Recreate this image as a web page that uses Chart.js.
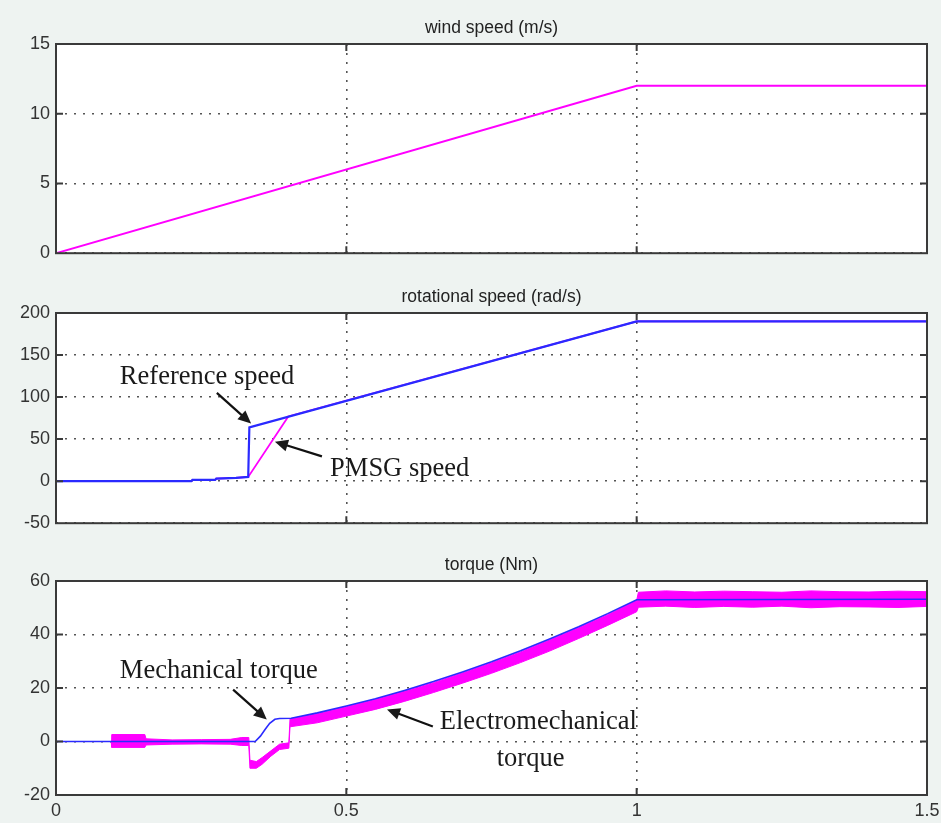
<!DOCTYPE html>
<html>
<head>
<meta charset="utf-8">
<script src="https://cdn.jsdelivr.net/npm/chart.js@4.4.0/dist/chart.umd.min.js"></script>
<style>
  body { margin: 0; background: #eef3f1; }
  .panel { position: absolute; left: 0; width: 941px; }
</style>
</head>
<body>
<div class="panel" style="top:0;height:270px"><canvas id="windChart" width="941" height="270"></canvas></div>
<div class="panel" style="top:270px;height:270px"><canvas id="speedChart" width="941" height="270"></canvas></div>
<div class="panel" style="top:540px;height:283px"><canvas id="torqueChart" width="941" height="283"></canvas></div>
<script>
// x axis ticks shared by all panels
const timeTicks = [0, 0.5, 1, 1.5];

// wind speed (m/s)
const windTime = [0, 1, 1.5];
const windSpeed = [0, 12, 12];

// rotational speed (rad/s)
const refTime = [0, 0.233, 0.235, 0.274, 0.276, 0.31, 0.331, 0.333, 1, 1.5];
const refSpeed = [0, 0, 1.5, 1.5, 3, 4, 5, 64, 190, 190];
const pmsgTime = [0, 0.233, 0.235, 0.274, 0.276, 0.31, 0.331, 0.40, 1, 1.5];
const pmsgSpeed = [0, 0, 1.5, 1.5, 3, 4, 5, 77, 190, 190];

// torque (Nm)
const mechTime = [0, 0.343, 0.352, 0.36, 0.368, 0.377, 0.385, 0.405, 0.45, 0.5, 0.55, 0.6, 0.65, 0.7, 0.75, 0.8, 0.85, 0.9, 0.95, 1.0, 1.5];
const mechTorque = [0, 0, 2, 4.5, 6.8, 8.3, 8.6, 8.7, 10.7, 13.3, 16.0, 19.1, 22.4, 26.0, 29.8, 33.9, 38.3, 42.9, 47.8, 53.0, 53.2];

const elecTime = [0.095, 0.096, 0.153, 0.155, 0.2, 0.25, 0.3, 0.32, 0.332, 0.334, 0.345, 0.355, 0.37, 0.385, 0.401, 0.403,
  0.45, 0.5, 0.55, 0.6, 0.65, 0.7, 0.75, 0.8, 0.85, 0.9, 0.95, 1.0,
  1.003, 1.05, 1.1, 1.15, 1.2, 1.25, 1.3, 1.35, 1.4, 1.45, 1.5];
const elecUpper = [0, 2.6, 2.6, 1.0, 0.6, 0.7, 0.8, 1.5, 1.5, -7, -7.5, -6, -3.5, -1, -0.5, 8.5,
  10.4, 13, 15.7, 18.8, 22, 25.6, 29.4, 33.5, 37.9, 42.5, 47.4, 52.8,
  55.8, 56.3, 55.9, 56.2, 56.0, 55.8, 56.3, 56.0, 55.9, 56.2, 56.0];
const elecLower = [0, -2.2, -2.2, -1.3, -1.0, -0.9, -1.0, -1.5, -1.5, -10, -10, -8.5, -5.5, -3, -2.5, 5.5,
  7, 9.5, 12, 15, 18.3, 21.8, 25.5, 29.5, 33.8, 38.5, 43.4, 48.5,
  50.2, 50.6, 50.1, 50.5, 50.2, 50.6, 50.0, 50.4, 50.3, 50.1, 50.5];

const MAGENTA = '#ff00ff';
const BLUE = '#2a2aff';

function pts(xs, ys) {
  return xs.map((x, i) => ({ x: x, y: ys[i] }));
}

// arrow + label annotations, given in data coordinates
function drawNotes(chart, notes) {
  const ctx = chart.ctx;
  const xs = chart.scales.x, ys = chart.scales.y;
  ctx.save();
  ctx.fillStyle = '#1a1a1a';
  ctx.strokeStyle = '#111';
  ctx.font = '26.5px "Liberation Serif", "Times New Roman", serif';
  ctx.textBaseline = 'middle';
  ctx.textAlign = 'left';
  (notes.texts || []).forEach(t => {
    ctx.fillText(t.text, xs.getPixelForValue(t.x), ys.getPixelForValue(t.y));
  });
  (notes.arrows || []).forEach(a => {
    const x1 = xs.getPixelForValue(a.from[0]), y1 = ys.getPixelForValue(a.from[1]);
    const x2 = xs.getPixelForValue(a.to[0]), y2 = ys.getPixelForValue(a.to[1]);
    const ang = Math.atan2(y2 - y1, x2 - x1);
    const hl = 13, hw = 6;
    ctx.lineWidth = 2.2;
    ctx.beginPath();
    ctx.moveTo(x1, y1);
    ctx.lineTo(x2 - Math.cos(ang) * hl * 0.8, y2 - Math.sin(ang) * hl * 0.8);
    ctx.stroke();
    ctx.beginPath();
    ctx.moveTo(x2, y2);
    ctx.lineTo(x2 - Math.cos(ang) * hl - Math.sin(ang) * hw, y2 - Math.sin(ang) * hl + Math.cos(ang) * hw);
    ctx.lineTo(x2 - Math.cos(ang) * hl + Math.sin(ang) * hw, y2 - Math.sin(ang) * hl - Math.cos(ang) * hw);
    ctx.closePath();
    ctx.fill();
  });
  ctx.restore();
}

const framePlugin = {
  id: 'matlabFrame',
  afterDatasetsDraw(chart, args, opts) {
    const ctx = chart.ctx;
    const a = chart.chartArea;
    const xs = chart.scales.x, ys = chart.scales.y;
    ctx.save();
    ctx.strokeStyle = '#3a3a3a';
    ctx.lineWidth = 2;
    ys.ticks.forEach(t => {
      const y = ys.getPixelForValue(t.value);
      if (t.value === ys.min || t.value === ys.max) return;
      ctx.beginPath();
      ctx.moveTo(a.left, y); ctx.lineTo(a.left + 7, y);
      ctx.moveTo(a.right, y); ctx.lineTo(a.right - 7, y);
      ctx.stroke();
    });
    xs.ticks.forEach(t => {
      const x = xs.getPixelForValue(t.value);
      if (t.value === xs.min || t.value === xs.max) return;
      ctx.beginPath();
      ctx.moveTo(x, a.bottom); ctx.lineTo(x, a.bottom - 7);
      ctx.moveTo(x, a.top); ctx.lineTo(x, a.top + 7);
      ctx.stroke();
    });
    ctx.strokeRect(a.left, a.top, a.right - a.left, a.bottom - a.top);
    // panel title
    ctx.fillStyle = '#222';
    ctx.font = '17.5px "Liberation Sans", Arial, sans-serif';
    ctx.textAlign = 'center';
    ctx.textBaseline = 'middle';
    ctx.fillText(opts.title, (a.left + a.right) / 2, a.top - 16);
    ctx.restore();
    if (opts.notes) drawNotes(chart, opts.notes);
  }
};

function makeChart(id, cfg) {
  const canvas = document.getElementById(id);
  return new Chart(canvas.getContext('2d'), {
    type: 'line',
    data: { datasets: cfg.datasets },
    options: {
      responsive: false,
      animation: false,
      layout: { padding: { top: cfg.top, right: 14, left: 0, bottom: 0 } },
      elements: { point: { radius: 0 }, line: { tension: 0 } },
      plugins: {
        legend: { display: false },
        tooltip: { enabled: false },
        matlabFrame: { title: cfg.title, notes: cfg.notes }
      },
      scales: {
        x: {
          type: 'linear',
          min: 0, max: 1.5,
          afterBuildTicks: s => { s.ticks = timeTicks.map(v => ({ value: v })); },
          afterFit: s => {
            s.height = cfg.xHeight;
            s.paddingLeft = 0;
            s.paddingRight = 0;
          },
          ticks: {
            display: cfg.showX,
            padding: 5,
            color: '#333',
            font: { family: '"Liberation Sans", Arial, sans-serif', size: 18 },
            callback: v => String(v)
          },
          grid: { color: '#555', lineWidth: 1.6, drawTicks: false },
          border: { display: false, dash: [2, 7] }
        },
        y: {
          min: cfg.yMin, max: cfg.yMax,
          ticks: {
            stepSize: cfg.yStep,
            padding: 6,
            color: '#333',
            font: { family: '"Liberation Sans", Arial, sans-serif', size: 18 }
          },
          afterFit: s => { s.width = 56; },
          grid: { color: '#555', lineWidth: 1.6, drawTicks: false },
          border: { display: false, dash: [2, 7] }
        }
      }
    },
    plugins: [framePlugin, {
      id: 'plotBg',
      beforeDraw(chart) {
        const a = chart.chartArea, ctx = chart.ctx;
        ctx.save();
        ctx.fillStyle = '#ffffff';
        ctx.fillRect(a.left, a.top, a.right - a.left, a.bottom - a.top);
        ctx.restore();
      }
    }]
  });
}

makeChart('windChart', {
  title: 'wind speed (m/s)',
  top: 44, xHeight: 12, showX: false,
  yMin: 0, yMax: 15, yStep: 5,
  datasets: [
    { data: pts(windTime, windSpeed), borderColor: MAGENTA, borderWidth: 2, fill: false }
  ]
});

makeChart('speedChart', {
  title: 'rotational speed (rad/s)',
  top: 43, xHeight: 13, showX: false,
  yMin: -50, yMax: 200, yStep: 50,
  datasets: [
    { data: pts(refTime, refSpeed), borderColor: BLUE, borderWidth: 2.2, fill: false },
    { data: pts(pmsgTime, pmsgSpeed), borderColor: MAGENTA, borderWidth: 1.8, fill: false }
  ],
  notes: {
    texts: [
      { text: 'Reference speed', x: 0.110, y: 124 },
      { text: 'PMSG speed', x: 0.472, y: 14 }
    ],
    arrows: [
      { from: [0.277, 105], to: [0.336, 68.5] },
      { from: [0.458, 29.5], to: [0.377, 47] }
    ]
  }
});

makeChart('torqueChart', {
  title: 'torque (Nm)',
  top: 41, xHeight: 28, showX: true,
  yMin: -20, yMax: 60, yStep: 20,
  datasets: [
    { data: pts(mechTime, mechTorque), borderColor: BLUE, borderWidth: 1.6, fill: false },
    { data: pts(elecTime, elecUpper), borderColor: MAGENTA, borderWidth: 1, fill: false },
    { data: pts(elecTime, elecLower), borderColor: MAGENTA, borderWidth: 1, fill: '-1', backgroundColor: MAGENTA }
  ],
  notes: {
    texts: [
      { text: 'Mechanical torque', x: 0.110, y: 26.2 },
      { text: 'Electromechanical', x: 0.661, y: 7.1 },
      { text: 'torque', x: 0.759, y: -6.4 }
    ],
    arrows: [
      { from: [0.305, 19.4], to: [0.363, 8.2] },
      { from: [0.649, 5.6], to: [0.570, 12] }
    ]
  }
});
</script>
</body>
</html>
